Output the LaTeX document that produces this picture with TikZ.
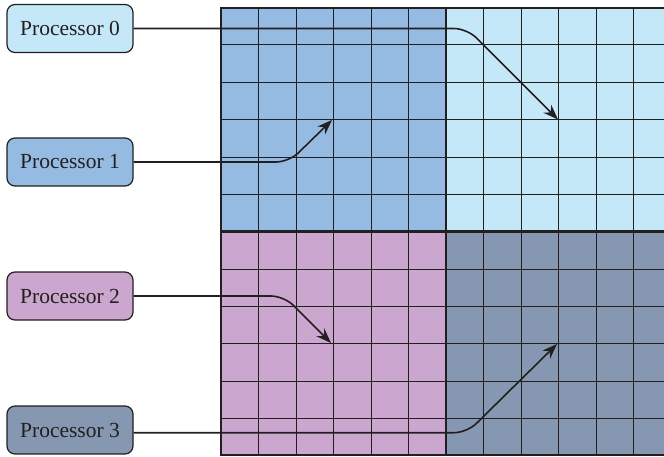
\documentclass[tikz,border=0pt]{standalone}
\usepackage{fontspec}
\setmainfont{Liberation Serif}
\newfontfamily\labelfont{Liberation Serif}
\usetikzlibrary{arrows.meta}
\definecolor{qa}{HTML}{C4E8F8}
\definecolor{qb}{HTML}{95BBE2}
\definecolor{qc}{HTML}{CBA6CE}
\definecolor{qd}{HTML}{8597B1}
\definecolor{ink}{HTML}{231F20}
\tikzset{
  procbox/.style={draw=ink, line width=1.2pt, rounded corners=8pt, minimum width=126pt, minimum height=48pt, inner sep=0pt, font=\labelfont\fontsize{21.5}{25}\selectfont, text=ink},
  conn/.style={draw=ink, line width=1.6pt, rounded corners=13pt, -{Stealth[length=15pt,width=11pt]}},
  gridthin/.style={draw=ink, line width=1.3pt},
  gridthick/.style={draw=ink, line width=2.4pt}
}
\begin{document}
\begin{tikzpicture}[x=1pt,y=-1pt]
\useasboundingbox (0,0) rectangle (664,456);
\begin{scope}
\clip (0,0) rectangle (664,456);
\fill[qb] (221,8) rectangle (446,231.5);
\fill[qa] (446,8) rectangle (680,231.5);
\fill[qc] (221,231.5) rectangle (446,455);
\fill[qd] (446,231.5) rectangle (680,455);
\foreach \x in {258.5,296.5,333.5,371.5,408.5,483.5,521.5,558.5,596.5,633.5} {
  \draw[gridthin] (\x,8) -- (\x,455);
}
\foreach \y in {44.5,82.5,119.5,157.5,194.5,269.5,306.5,343.5,381.5,418.5} {
  \draw[gridthin] (221,\y) -- (680,\y);
}
\draw[gridthick] (446,8) -- (446,455);
\draw[gridthick] (221,231.5) -- (680,231.5);
\draw[gridthick] (680,8) -- (221,8) -- (221,455) -- (680,455);
\end{scope}

\node[procbox, fill=qa] (p0) at (70,28.5) {Processor 0};
\node[procbox, fill=qb] (p1) at (70,162) {Processor 1};
\node[procbox, fill=qc] (p2) at (70,296) {Processor 2};
\node[procbox, fill=qd] (p3) at (70,430) {Processor 3};

\coordinate (c0) at (467,28.5);
\coordinate (t0) at (558,119.5);
\coordinate (c1) at (289,162);
\coordinate (t1) at (332,120);
\coordinate (c2) at (284,296);
\coordinate (t2) at (331,343);
\coordinate (c3) at (467,432.7);
\coordinate (t3) at (557,344);

\draw[conn] (p0.east) -- (c0) -- (t0);
\draw[conn] (p1.east) -- (c1) -- (t1);
\draw[conn] (p2.east) -- (c2) -- (t2);
\draw[conn] (p3.east |- c3) -- (c3) -- (t3);
\end{tikzpicture}
\end{document}
